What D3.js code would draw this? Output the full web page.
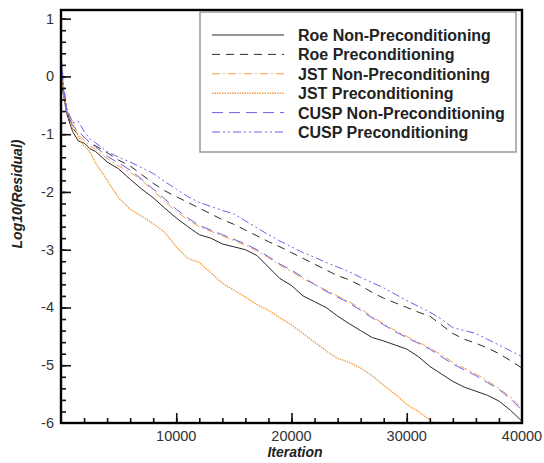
<!DOCTYPE html>
<html>
<head>
<meta charset="utf-8">
<script src="https://cdn.jsdelivr.net/npm/d3@7"></script>
<style>
    body { margin: 0; background: #fff; }
    #chart-area { width: 544px; height: 463px; }
    .tick-label { font-family: "Liberation Sans", Arial, sans-serif; font-size: 14.5px; fill: #333; }
    .axis-title { font-family: "Liberation Sans", Arial, sans-serif; font-size: 14px; font-weight: bold; font-style: italic; fill: #222; }
    .legend-label { font-family: "Liberation Sans", Arial, sans-serif; font-size: 16px; font-weight: bold; fill: #222; }
</style>
</head>
<body>
<div id="chart-area"></div>
<script>

// iterations shared by all curves
let iterations = [0, 200, 500, 1000, 1500, 2000, 2500, 3000, 4000, 5000, 6000, 7000, 8000, 9000,
    10000, 11000, 12000, 13000, 14000, 15000, 16000, 17000, 18000, 19000, 20000, 21000, 22000,
    23000, 24000, 25000, 26000, 27000, 28000, 29000, 30000, 31000, 32000, 33000, 34000, 35000,
    36000, 37000, 38000, 39000, 40000];

let roeNonPre = [0.3, -0.3, -0.65, -0.95, -1.12, -1.15, -1.25, -1.3, -1.48, -1.6, -1.78, -1.95, -2.1, -2.28,
    -2.45, -2.6, -2.74, -2.8, -2.9, -2.95, -3.0, -3.1, -3.3, -3.5, -3.62, -3.8, -3.9,
    -4.0, -4.15, -4.28, -4.4, -4.52, -4.58, -4.65, -4.72, -4.85, -5.02, -5.15, -5.28, -5.38,
    -5.45, -5.52, -5.62, -5.78, -5.97];

let roePre = [0.3, -0.3, -0.6, -0.9, -1.0, -1.05, -1.15, -1.2, -1.32, -1.45, -1.55, -1.7, -1.85, -1.98,
    -2.08, -2.18, -2.28, -2.38, -2.48, -2.56, -2.66, -2.76, -2.86, -2.95, -3.05, -3.15, -3.25,
    -3.35, -3.45, -3.52, -3.62, -3.74, -3.84, -3.92, -4.0, -4.08, -4.15, -4.3, -4.45, -4.55,
    -4.62, -4.7, -4.8, -4.92, -5.05];

let jstNonPre = [0.3, -0.3, -0.62, -0.9, -1.02, -1.1, -1.2, -1.26, -1.42, -1.55, -1.66, -1.8, -1.98, -2.16,
    -2.34, -2.48, -2.6, -2.68, -2.76, -2.84, -2.92, -3.02, -3.14, -3.27, -3.38, -3.5, -3.6,
    -3.7, -3.8, -3.9, -4.02, -4.16, -4.28, -4.4, -4.5, -4.6, -4.7, -4.82, -4.95, -5.05,
    -5.15, -5.27, -5.4, -5.55, -5.75];

let jstPre = [0.3, -0.2, -0.6, -0.78, -1.05, -1.2, -1.3, -1.5, -1.8, -2.1, -2.3, -2.42, -2.55, -2.7,
    -2.95, -3.15, -3.22, -3.4, -3.58, -3.7, -3.82, -3.95, -4.05, -4.18, -4.3, -4.45, -4.6,
    -4.75, -4.88, -4.95, -5.05, -5.18, -5.35, -5.5, -5.68, -5.8, -5.95, -6.1, -6.2, -6.3,
    -6.4, -6.5, -6.6, -6.7, -6.8];

let cuspNonPre = [0.4, -0.2, -0.6, -0.85, -0.95, -1.05, -1.15, -1.22, -1.38, -1.5, -1.62, -1.78, -1.95, -2.12,
    -2.3, -2.45, -2.58, -2.66, -2.74, -2.82, -2.9, -3.0, -3.12, -3.25, -3.35, -3.48, -3.6,
    -3.72, -3.82, -3.92, -4.05, -4.18, -4.3, -4.42, -4.52, -4.62, -4.72, -4.85, -4.98, -5.08,
    -5.18, -5.3, -5.42, -5.58, -5.78];

let cuspPre = [0.45, -0.1, -0.55, -0.8, -0.78, -0.95, -1.08, -1.15, -1.3, -1.4, -1.48, -1.58, -1.68, -1.82,
    -1.95, -2.08, -2.18, -2.25, -2.32, -2.38, -2.5, -2.62, -2.74, -2.85, -2.95, -3.05, -3.13,
    -3.22, -3.3, -3.38, -3.48, -3.57, -3.66, -3.77, -3.88, -3.98, -4.08, -4.2, -4.35, -4.4,
    -4.45, -4.55, -4.65, -4.75, -4.85];

let seriesNames = ["Roe Non-Preconditioning", "Roe Preconditioning", "JST Non-Preconditioning",
    "JST Preconditioning", "CUSP Non-Preconditioning", "CUSP Preconditioning"];
let seriesValues = [roeNonPre, roePre, jstNonPre, jstPre, cuspNonPre, cuspPre];

let xTicks = [10000, 20000, 30000, 40000];
let yTicks = [-6, -5, -4, -3, -2, -1, 0, 1];


class ResidualVis {

    constructor(parentElement) {
        this.parentElement = parentElement;
        this.initVis();
    }

    initVis() {
        let vis = this;

        vis.svg = d3.select("#" + vis.parentElement).append("svg")
            .attr("width", 544)
            .attr("height", 463);

        // plot box in pixels
        vis.left = 61; vis.right = 522; vis.top = 10; vis.bottom = 423;

        vis.x = d3.scaleLinear().domain([0, 40000]).range([vis.left, vis.right]);
        vis.y = d3.scaleLinear().domain([-6, 1.15]).range([vis.bottom, vis.top]);

        vis.styles = [
            {color: "#2b2b2b", dash: null, width: 1},
            {color: "#2b2b2b", dash: "8,6", width: 1},
            {color: "#f2a04a", dash: "8,3,2,3", width: 1},
            {color: "#f2a04a", dash: "1.5,1", width: 1.4},
            {color: "#6a62e8", dash: "11,6", width: 1},
            {color: "#6a62e8", dash: "8,3,2,3,2,3", width: 1}
        ];

        vis.svg.append("clipPath").attr("id", "plot-clip")
            .append("rect")
            .attr("x", vis.left).attr("y", vis.top)
            .attr("width", vis.right - vis.left).attr("height", vis.bottom - vis.top);

        vis.wrangleData();
    }

    wrangleData() {
        let vis = this;
        vis.series = seriesValues.map((vals, i) => ({
            name: seriesNames[i],
            points: iterations.map((it, j) => ({x: it, y: vals[j]}))
        }));
        vis.updateVis();
    }

    updateVis() {
        let vis = this;

        let line = d3.line()
            .x(d => vis.x(d.x))
            .y(d => vis.y(d.y));

        // curves
        vis.svg.append("g")
            .attr("clip-path", "url(#plot-clip)")
            .selectAll(".curve")
            .data(vis.series)
            .enter().append("path")
            .attr("class", "curve")
            .attr("d", d => line(d.points))
            .attr("fill", "none")
            .attr("stroke", (d, i) => vis.styles[i].color)
            .attr("stroke-width", (d, i) => vis.styles[i].width)
            .attr("stroke-dasharray", (d, i) => vis.styles[i].dash);

        // axes, ticks pointing inward
        let xAxis = d3.axisBottom(vis.x)
            .tickValues(d3.range(2000, 40000, 2000))
            .tickSize(-5)
            .tickFormat("");
        let xAxisMajor = d3.axisBottom(vis.x)
            .tickValues([10000, 20000, 30000])
            .tickSize(-10)
            .tickFormat("");
        let yAxis = d3.axisLeft(vis.y)
            .tickValues(d3.range(-5.8, 1.01, 0.2))
            .tickSize(-5)
            .tickFormat("");
        let yAxisMajor = d3.axisLeft(vis.y)
            .tickValues(yTicks.filter(d => d > -6))
            .tickSize(-10)
            .tickFormat("");

        [xAxis, xAxisMajor].forEach(ax => {
            vis.svg.append("g")
                .attr("transform", "translate(0," + vis.bottom + ")")
                .call(ax)
                .call(g => g.select(".domain").remove())
                .selectAll("line").attr("stroke", "#111").attr("stroke-width", 1.6);
        });
        [yAxis, yAxisMajor].forEach(ax => {
            vis.svg.append("g")
                .attr("transform", "translate(" + vis.left + ",0)")
                .call(ax)
                .call(g => g.select(".domain").remove())
                .selectAll("line").attr("stroke", "#111").attr("stroke-width", 1.6);
        });

        // tick labels
        vis.svg.selectAll(".x-label")
            .data(xTicks)
            .enter().append("text")
            .attr("class", "tick-label")
            .attr("x", d => vis.x(d))
            .attr("y", 441)
            .attr("text-anchor", "middle")
            .text(d => d);

        vis.svg.selectAll(".y-label")
            .data(yTicks)
            .enter().append("text")
            .attr("class", "tick-label")
            .attr("x", 54)
            .attr("y", d => vis.y(d) + 5)
            .attr("text-anchor", "end")
            .text(d => d);

        // frame
        vis.svg.append("rect")
            .attr("x", vis.left).attr("y", vis.top)
            .attr("width", vis.right - vis.left).attr("height", vis.bottom - vis.top)
            .attr("fill", "none")
            .attr("stroke", "#000")
            .attr("stroke-width", 2.4);

        // axis titles
        vis.svg.append("text")
            .attr("class", "axis-title")
            .attr("x", 295).attr("y", 457)
            .attr("text-anchor", "middle")
            .text("Iteration");

        vis.svg.append("text")
            .attr("class", "axis-title")
            .attr("transform", "translate(22,194) rotate(-90)")
            .attr("text-anchor", "middle")
            .text("Log10(Residual)");

        // legend
        let legend = vis.svg.append("g").attr("class", "legend");
        legend.append("rect")
            .attr("x", 200).attr("y", 12)
            .attr("width", 316).attr("height", 140)
            .attr("fill", "#fff")
            .attr("stroke", "#999")
            .attr("stroke-width", 1.5);

        let rows = legend.selectAll(".legend-row")
            .data(vis.series)
            .enter().append("g")
            .attr("class", "legend-row")
            .attr("transform", (d, i) => "translate(0," + (35 + i * 19.4) + ")");

        rows.append("line")
            .attr("x1", 212).attr("x2", 284)
            .attr("y1", 0).attr("y2", 0)
            .attr("stroke", (d, i) => vis.styles[i].color)
            .attr("stroke-width", (d, i) => vis.styles[i].width)
            .attr("stroke-dasharray", (d, i) => vis.styles[i].dash);

        rows.append("text")
            .attr("class", "legend-label")
            .attr("x", 298)
            .attr("y", 6)
            .text(d => d.name);
    }
}

let myResidualVis = new ResidualVis("chart-area");

</script>
</body>
</html>
